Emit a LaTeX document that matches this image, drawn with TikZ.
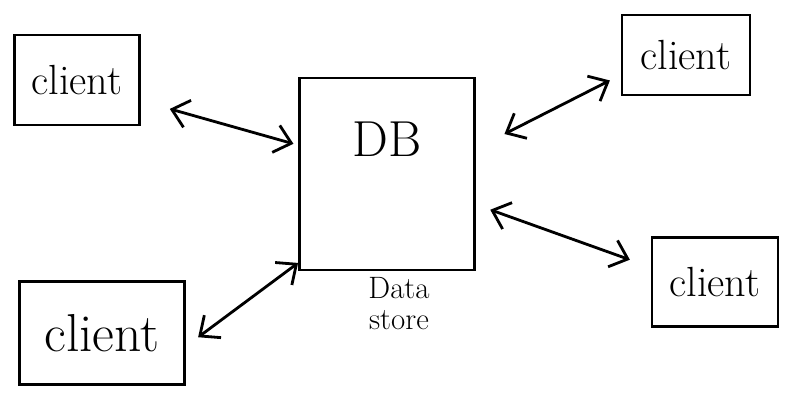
\documentclass[tikz,border=0pt]{standalone}
\usepackage{tikz}
\usetikzlibrary{arrows.meta,positioning,calc}

\begin{document}
\begin{tikzpicture}[x=0.025cm,y=-0.025cm,
  box/.style={draw,line width=2pt,inner sep=0pt,font=\fontsize{30}{36}\selectfont},
  arr/.style={{Straight Barb[length=4mm,width=7mm]}-{Straight Barb[length=4mm,width=7mm]},line width=2pt}]
\useasboundingbox (0,0) rectangle (801,394);
% data store in the middle
\node[box,minimum width=4.375cm,minimum height=4.8cm] (db) at (387,174) {};
\node[below=1cm of db.north,font=\fontsize{36}{40}\selectfont] (dbtext) {DB};
\node[below=0.1cm of db.south,xshift=0.3cm,align=center,font=\fontsize{22}{22}\selectfont,inner sep=1pt] (store) {Data\\store};
% clients
\node[box,minimum width=3.125cm,minimum height=2.25cm] (tl) at (77,80) {client};
\node[box,minimum width=3.2cm,minimum height=2cm] (tr) at (686,55) {client};
\node[box,minimum width=4.125cm,minimum height=2.575cm,font=\fontsize{38}{44}\selectfont] (bl) at (102,333) {client};
\node[box,minimum width=3.15cm,minimum height=2.225cm] (br) at (715,282) {client};
% links
\draw[arr,shorten <=0.75cm,shorten >=0.12cm] (tl.-18) -- (db.162);
\draw[arr,shorten <=0.8cm,shorten >=0.3cm] (db.16) -- (tr.197);
\draw[arr,shorten <=0.38cm] (bl.-9) -- (db.225);
\draw[arr,shorten <=0.38cm,shorten >=0.55cm] (db.-19) -- (br.167);
\end{tikzpicture}
\end{document}
